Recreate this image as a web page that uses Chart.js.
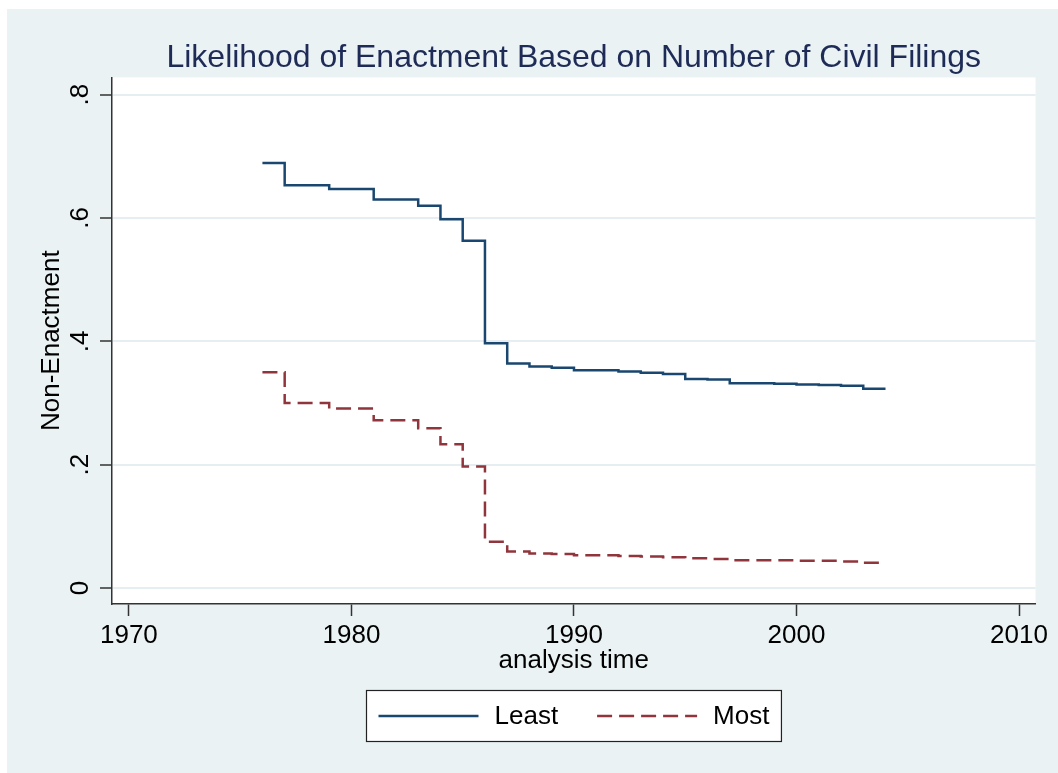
<!DOCTYPE html>
<html>
<head>
<meta charset="utf-8">
<title>Likelihood of Enactment</title>
<script src="https://cdn.jsdelivr.net/npm/chart.js@4.4.1/dist/chart.umd.min.js"></script>
<style>
    html, body { margin: 0; padding: 0; background: #eaf2f3; overflow: hidden; }
    #wrap { width: 1058px; height: 773px; }
    canvas { display: block; }
</style>
</head>
<body>
<div id="wrap"><canvas id="enactChart" width="1058" height="773"></canvas></div>
<script>
// Survival estimates (one value per analysis year)
const years = [1976, 1977, 1978, 1979, 1980, 1981, 1982, 1983, 1984, 1985,
               1986, 1987, 1988, 1989, 1990, 1991, 1992, 1993, 1994, 1995,
               1996, 1997, 1998, 1999, 2000, 2001, 2002, 2003, 2004];
const leastValues = [0.689, 0.653, 0.653, 0.647, 0.647, 0.630, 0.630, 0.620, 0.598, 0.563,
                     0.397, 0.364, 0.359, 0.357, 0.353, 0.353, 0.351, 0.349, 0.347, 0.339,
                     0.338, 0.332, 0.332, 0.331, 0.330, 0.329, 0.328, 0.323, 0.323];
const mostValues = [0.350, 0.300, 0.300, 0.291, 0.291, 0.272, 0.272, 0.259, 0.233, 0.197,
                    0.075, 0.059, 0.056, 0.055, 0.053, 0.053, 0.052, 0.051, 0.050, 0.048,
                    0.047, 0.045, 0.045, 0.045, 0.044, 0.044, 0.043, 0.041, 0.041];
const seriesNames = ['Least', 'Most'];
const xTickValues = [1970, 1980, 1990, 2000, 2010];
const yTickValues = [0, 0.2, 0.4, 0.6, 0.8];
const yTickLabels = ['0', '.2', '.4', '.6', '.8'];

const FONT = '"Liberation Sans", Arial, Helvetica, sans-serif';
Chart.defaults.font.family = FONT;
Chart.defaults.color = '#000';

// gray outer frame + white plot region
const backgroundPlugin = {
    id: 'stataBackground',
    beforeDraw(chart) {
        const { ctx, chartArea: a, width, height } = chart;
        ctx.save();
        ctx.fillStyle = '#ffffff';
        ctx.fillRect(0, 0, width, height);
        ctx.fillStyle = '#eaf2f3';
        ctx.fillRect(7, 9, width + 10, height + 10);
        ctx.fillStyle = '#ffffff';
        ctx.fillRect(a.left, a.top, a.right - a.left, a.bottom - a.top);
        ctx.restore();
    }
};

// boxed legend under the x axis title
const legendBoxPlugin = {
    id: 'legendBox',
    afterDraw(chart) {
        const { ctx, chartArea } = chart;
        const sets = chart.data.datasets;
        const sampleLen = 100, textGap = 16, itemGap = 39, pad = 12, boxH = 51;
        ctx.save();
        ctx.font = '26px ' + FONT;
        const widths = sets.map(ds => ctx.measureText(ds.label).width);
        const total = pad * 2 + sets.length * (sampleLen + textGap) +
            widths.reduce((s, w) => s + w, 0) + itemGap * (sets.length - 1);
        const left = Math.round((chartArea.left + chartArea.right) / 2 - total / 2) + 0.5;
        const top = Math.round(chart.scales.x.bottom + 13) + 0.5;
        ctx.fillStyle = '#ffffff';
        ctx.fillRect(left, top, total, boxH);
        ctx.strokeStyle = '#222';
        ctx.lineWidth = 1.2;
        ctx.strokeRect(left, top, total, boxH);

        const cy = top + boxH / 2;
        let x = left + pad;
        sets.forEach((ds, i) => {
            ctx.strokeStyle = ds.borderColor;
            ctx.lineWidth = ds.borderWidth;
            ctx.setLineDash(ds.borderDash || []);
            ctx.beginPath();
            ctx.moveTo(x, cy);
            ctx.lineTo(x + sampleLen, cy);
            ctx.stroke();
            ctx.setLineDash([]);
            x += sampleLen + textGap;
            ctx.fillStyle = '#000';
            ctx.textAlign = 'left';
            ctx.textBaseline = 'middle';
            ctx.fillText(ds.label, x, cy + 1);
            x += widths[i] + itemGap;
        });
        ctx.restore();
    }
};

const ctx = document.getElementById('enactChart').getContext('2d');
new Chart(ctx, {
    type: 'line',
    data: {
        datasets: [
            {
                label: seriesNames[0],
                data: years.map((t, i) => ({ x: t, y: leastValues[i] })),
                borderColor: '#1a476f',
                borderWidth: 2.5,
                stepped: true,
                pointRadius: 0,
                fill: false
            },
            {
                label: seriesNames[1],
                data: years.map((t, i) => ({ x: t, y: mostValues[i] })),
                borderColor: '#90353b',
                borderWidth: 2.5,
                borderDash: [15, 7],
                stepped: true,
                pointRadius: 0,
                fill: false
            }
        ]
    },
    options: {
        responsive: false,
        animation: false,
        devicePixelRatio: 1,
        layout: {
            padding: { left: 0, top: 0, right: 22.5, bottom: 96.4 }
        },
        plugins: {
            legend: { display: false },
            tooltip: { enabled: false },
            title: {
                display: true,
                fullSize: false,
                text: 'Likelihood of Enactment Based on Number of Civil Filings',
                color: '#1e2b57',
                font: { size: 32, weight: 'normal' },
                padding: { top: 39, bottom: 0 }
            }
        },
        scales: {
            x: {
                type: 'linear',
                min: 1969.24,
                max: 2010.74,
                afterBuildTicks: scale => { scale.ticks = xTickValues.map(v => ({ value: v })); },
                afterFit: scale => { scale.height = 72.6; },
                grid: {
                    display: true,
                    drawOnChartArea: false,
                    color: 'rgba(0,0,0,0)',
                    tickColor: '#333',
                    tickLength: 12,
                    tickWidth: 1.5
                },
                border: { display: true, color: '#333', width: 1.5 },
                ticks: {
                    color: '#000',
                    font: { size: 26 },
                    padding: 4,
                    maxRotation: 0,
                    callback: v => String(v)
                },
                title: {
                    display: true,
                    text: 'analysis time',
                    color: '#000',
                    font: { size: 26 },
                    padding: { top: 0, bottom: 0 }
                }
            },
            y: {
                type: 'linear',
                min: -0.026,
                max: 0.828,
                afterBuildTicks: scale => { scale.ticks = yTickValues.map(v => ({ value: v })); },
                afterFit: scale => { scale.width = 112; },
                grid: {
                    color: '#e6eef1',
                    lineWidth: 2,
                    tickColor: '#333',
                    tickLength: 12,
                    tickWidth: 1.5
                },
                border: { display: true, color: '#333', width: 1.5 },
                ticks: {
                    color: '#000',
                    font: { size: 26 },
                    padding: 8,
                    minRotation: 90,
                    maxRotation: 90,
                    crossAlign: 'center',
                    callback: v => yTickLabels[yTickValues.indexOf(v)]
                },
                title: {
                    display: true,
                    text: 'Non-Enactment',
                    color: '#000',
                    font: { size: 26 },
                    padding: { top: 36.4, bottom: 0 }
                }
            }
        }
    },
    plugins: [backgroundPlugin, legendBoxPlugin]
});
</script>
</body>
</html>
